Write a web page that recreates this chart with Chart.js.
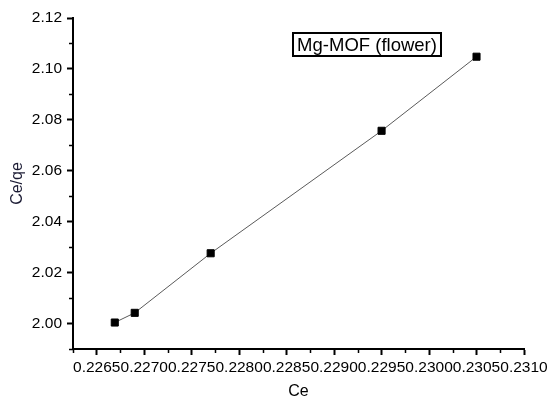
<!DOCTYPE html>
<html>
<head>
<meta charset="utf-8">
<script src="https://cdn.jsdelivr.net/npm/chart.js@4.4.1/dist/chart.umd.min.js"></script>
<style>
  html, body { margin: 0; padding: 0; background: #fff; }
  #wrap { width: 550px; height: 398px; }
</style>
</head>
<body>
<div id="wrap"><canvas id="c" width="550" height="398"></canvas></div>
<script>
// Measured equilibrium data for Mg-MOF (flower)
const seriesName = 'Mg-MOF (flower)';
const ceValues = [0.22669, 0.22690, 0.22770, 0.22950, 0.23050];
const ceQeValues = [2.0004, 2.0042, 2.0276, 2.0757, 2.1048];

// Major tick positions on each axis
const xTicks = [0.2265, 0.2270, 0.2275, 0.2280, 0.2285, 0.2290, 0.2295, 0.2300, 0.2305, 0.2310];
const yTicks = [2.00, 2.02, 2.04, 2.06, 2.08, 2.10, 2.12];

const FONT = 'Arial, "Liberation Sans", sans-serif';

// Short minor ticks halfway between the major ones, plus one below the first
const minorTicks = {
  id: 'minorTicks',
  afterDraw(chart) {
    const ctx = chart.ctx;
    const xs = chart.scales.x, ys = chart.scales.y;
    const ca = chart.chartArea;
    const mids = (arr) => {
      const out = [arr[0] - (arr[1] - arr[0]) / 2];
      for (let i = 0; i < arr.length - 1; i++) out.push((arr[i] + arr[i + 1]) / 2);
      return out;
    };
    ctx.save();
    ctx.strokeStyle = '#000';
    ctx.lineWidth = 1.5;
    ctx.beginPath();
    mids(xTicks).forEach(v => {
      if (v < xs.min - 1e-9 || v > xs.max + 1e-9) return;
      const px = Math.round(xs.getPixelForValue(v)) + 0.5;
      ctx.moveTo(px, ca.bottom);
      ctx.lineTo(px, ca.bottom + 4);
    });
    mids(yTicks).forEach(v => {
      if (v < ys.min - 1e-9 || v > ys.max + 1e-9) return;
      const py = Math.round(ys.getPixelForValue(v)) + 0.5;
      ctx.moveTo(ca.left, py);
      ctx.lineTo(ca.left - 4, py);
    });
    ctx.stroke();
    ctx.restore();
  }
};

// Boxed series label in the upper part of the plot
const seriesLabel = {
  id: 'seriesLabel',
  afterDraw(chart) {
    const ctx = chart.ctx;
    ctx.save();
    ctx.font = '18.5px ' + FONT;
    const x0 = 293, y0 = 33, w = 148, h = 23;
    ctx.fillStyle = '#fff';
    ctx.fillRect(x0, y0, w, h);
    ctx.strokeStyle = '#000';
    ctx.lineWidth = 2;
    ctx.strokeRect(x0, y0, w, h);
    ctx.fillStyle = '#000';
    ctx.textBaseline = 'middle';
    ctx.textAlign = 'center';
    ctx.fillText(seriesName, x0 + w / 2, y0 + h / 2 + 1);
    ctx.restore();
  }
};

new Chart(document.getElementById('c'), {
  type: 'scatter',
  data: {
    datasets: [{
      label: seriesName,
      data: ceValues.map((x, i) => ({ x, y: ceQeValues[i] })),
      showLine: true,
      borderColor: '#5a5a5a',
      borderWidth: 1,
      pointStyle: 'rect',
      pointRadius: 5,
      pointHoverRadius: 5,
      pointBackgroundColor: '#000',
      pointBorderColor: '#000',
      pointBorderWidth: 1
    }]
  },
  options: {
    responsive: false,
    animation: false,
    devicePixelRatio: 1,
    layout: { padding: { left: 0, right: 26, top: 18, bottom: 0 } },
    plugins: { legend: { display: false }, tooltip: { enabled: false } },
    scales: {
      x: {
        type: 'linear',
        min: 0.22625,
        max: 0.2310,
        afterBuildTicks: (s) => { s.ticks = xTicks.map(v => ({ value: v })); },
        afterFit: (s) => { s.height = 49; s.paddingLeft = 0; s.paddingRight = 0; },
        border: { display: true, color: '#000', width: 2 },
        grid: { drawOnChartArea: false, drawTicks: true, tickLength: 6, tickColor: '#000', tickWidth: 2 },
        ticks: {
          autoSkip: false, maxRotation: 0, minRotation: 0, padding: 3,
          color: '#000', font: { family: FONT, size: 15.5 },
          callback: (v) => Number(v).toFixed(4)
        },
        title: { display: true, text: 'Ce', color: '#000', font: { family: FONT, size: 16, lineHeight: 1 }, padding: { top: 0, bottom: -2 } }
      },
      y: {
        type: 'linear',
        min: 1.99,
        max: 2.12,
        afterBuildTicks: (s) => { s.ticks = yTicks.map(v => ({ value: v })); },
        afterFit: (s) => { s.width = 73; s.paddingTop = 0; s.paddingBottom = 0; },
        border: { display: true, color: '#000', width: 2 },
        grid: { drawOnChartArea: false, drawTicks: true, tickLength: 6, tickColor: '#000', tickWidth: 2 },
        ticks: {
          autoSkip: false, padding: 5,
          color: '#000', font: { family: FONT, size: 15.5 },
          callback: (v) => Number(v).toFixed(2)
        },
        title: { display: true, text: 'Ce/qe', color: '#1a1a33', font: { family: FONT, size: 16, lineHeight: 1 }, padding: { top: 10, bottom: 0 } }
      }
    }
  },
  plugins: [minorTicks, seriesLabel]
});
</script>
</body>
</html>
